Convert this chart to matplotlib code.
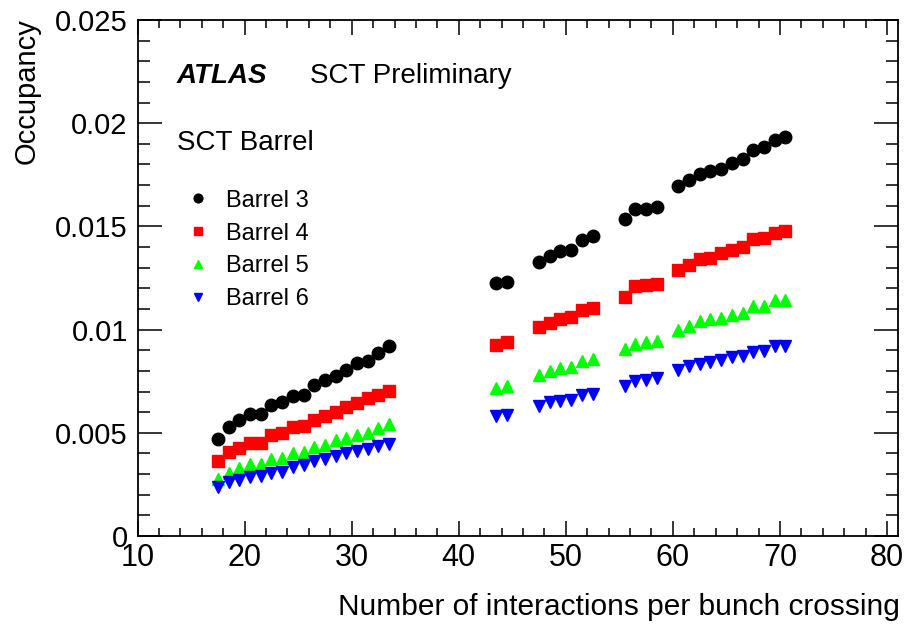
"""
Occupancy do SCT Barrel em funcao do numero de interacoes por cruzamento
"""

import matplotlib
matplotlib.use("Agg")
import matplotlib.pyplot as plt
from matplotlib.ticker import MultipleLocator, FuncFormatter

plt.rcParams['font.family'] = ['Liberation Sans', 'DejaVu Sans']

# numero de interacoes por bunch crossing (mu)
mu = [17.5, 18.5, 19.5, 20.5, 21.5, 22.5, 23.5, 24.5, 25.5, 26.5, 27.5, 28.5,
      29.5, 30.5, 31.5, 32.5, 33.5,
      43.5, 44.5,
      47.5, 48.5, 49.5, 50.5, 51.5, 52.5,
      55.5, 56.5, 57.5, 58.5,
      60.5, 61.5, 62.5, 63.5, 64.5, 65.5, 66.5, 67.5, 68.5, 69.5, 70.5]

barrel3 = [0.00471, 0.00529, 0.00560, 0.00593, 0.00590, 0.00636, 0.00647, 0.00676,
           0.00684, 0.00733, 0.00757, 0.00777, 0.00806, 0.00838, 0.00846, 0.00886,
           0.00922,
           0.01227, 0.01232,
           0.01327, 0.01356, 0.01380, 0.01385, 0.01433, 0.01453,
           0.01534, 0.01582, 0.01586, 0.01594,
           0.01696, 0.01723, 0.01752, 0.01768, 0.01780, 0.01809, 0.01825, 0.01870,
           0.01887, 0.01919, 0.01932]

barrel4 = [0.00361, 0.00409, 0.00426, 0.00450, 0.00453, 0.00490, 0.00498, 0.00528,
           0.00534, 0.00563, 0.00579, 0.00603, 0.00625, 0.00644, 0.00668, 0.00684,
           0.00704,
           0.00927, 0.00938,
           0.01013, 0.01032, 0.01053, 0.01062, 0.01094, 0.01105,
           0.01159, 0.01210, 0.01215, 0.01223,
           0.01291, 0.01315, 0.01340, 0.01348, 0.01372, 0.01385, 0.01401, 0.01437,
           0.01445, 0.01469, 0.01477]

barrel5 = [0.00275, 0.00307, 0.00329, 0.00349, 0.00349, 0.00372, 0.00377, 0.00401,
           0.00409, 0.00433, 0.00442, 0.00463, 0.00474, 0.00490, 0.00498, 0.00523,
           0.00544,
           0.00717, 0.00725,
           0.00781, 0.00798, 0.00814, 0.00819, 0.00846, 0.00858,
           0.00906, 0.00932, 0.00938, 0.00943,
           0.01000, 0.01016, 0.01040, 0.01049, 0.01057, 0.01073, 0.01081, 0.01113,
           0.01113, 0.01142, 0.01142]

barrel6 = [0.00239, 0.00264, 0.00272, 0.00288, 0.00291, 0.00307, 0.00312, 0.00336,
           0.00345, 0.00361, 0.00372, 0.00388, 0.00401, 0.00414, 0.00421, 0.00437,
           0.00447,
           0.00583, 0.00587,
           0.00628, 0.00647, 0.00652, 0.00660, 0.00684, 0.00689,
           0.00728, 0.00749, 0.00757, 0.00765,
           0.00806, 0.00822, 0.00835, 0.00841, 0.00851, 0.00867, 0.00874, 0.00890,
           0.00895, 0.00919, 0.00922]

nomes = ['Barrel 3', 'Barrel 4', 'Barrel 5', 'Barrel 6']


def criar_grafico():
    fig = plt.figure(figsize=(9.05, 6.24), dpi=100)
    ax = fig.add_axes([0.152, 0.141, 0.840, 0.827])

    # series: cor, marcador, tamanho
    ax.plot(mu, barrel3, 'o', color='black', markersize=9, label=nomes[0])
    ax.plot(mu, barrel4, 's', color='#ff0000', markersize=9, label=nomes[1])
    ax.plot(mu, barrel5, '^', color='#00ff00', markersize=8.5, label=nomes[2])
    ax.plot(mu, barrel6, 'v', color='#0000ff', markersize=8.5, label=nomes[3])

    ax.set_xlim(10, 81)
    ax.set_ylim(0, 0.025)

    # eixos estilo ROOT
    ax.xaxis.set_major_locator(MultipleLocator(10))
    ax.xaxis.set_minor_locator(MultipleLocator(2))
    ax.yaxis.set_major_locator(MultipleLocator(0.005))
    ax.yaxis.set_minor_locator(MultipleLocator(0.001))
    ax.yaxis.set_major_formatter(FuncFormatter(lambda v, p: '%g' % round(v, 4)))
    ax.tick_params(axis='both', which='both', direction='in', top=True, right=True,
                   colors='black', width=1.1)
    ax.tick_params(axis='x', which='major', length=11, labelsize=22, pad=5)
    ax.tick_params(axis='x', which='minor', length=6)
    ax.tick_params(axis='y', which='major', length=17, labelsize=21, pad=7)
    ax.tick_params(axis='y', which='minor', length=8.5)
    for s in ax.spines.values():
        s.set_linewidth(1.3)

    ax.set_xlabel('Number of interactions per bunch crossing', fontsize=21.5, loc='right')
    ax.xaxis.set_label_coords(1.003, -0.11)
    ax.set_ylabel('Occupancy', fontsize=21, loc='top')
    ax.yaxis.set_label_coords(-0.128, 1.003)

    # textos
    ax.text(0.0516, 0.878, 'ATLAS', transform=ax.transAxes, fontsize=20,
            fontweight='bold', fontstyle='italic', va='baseline')
    ax.text(0.227, 0.878, 'SCT Preliminary', transform=ax.transAxes, fontsize=20,
            va='baseline')
    ax.text(0.0516, 0.748, 'SCT Barrel', transform=ax.transAxes, fontsize=20,
            va='baseline')

    ax.legend(loc='upper left', bbox_to_anchor=(0.0645, 0.671), frameon=False,
              fontsize=17, handlelength=1.0, handletextpad=0.66, labelspacing=0.46,
              borderpad=0, borderaxespad=0, markerscale=0.7)

    fig.savefig('out.png', dpi=100)


if __name__ == "__main__":
    criar_grafico()
